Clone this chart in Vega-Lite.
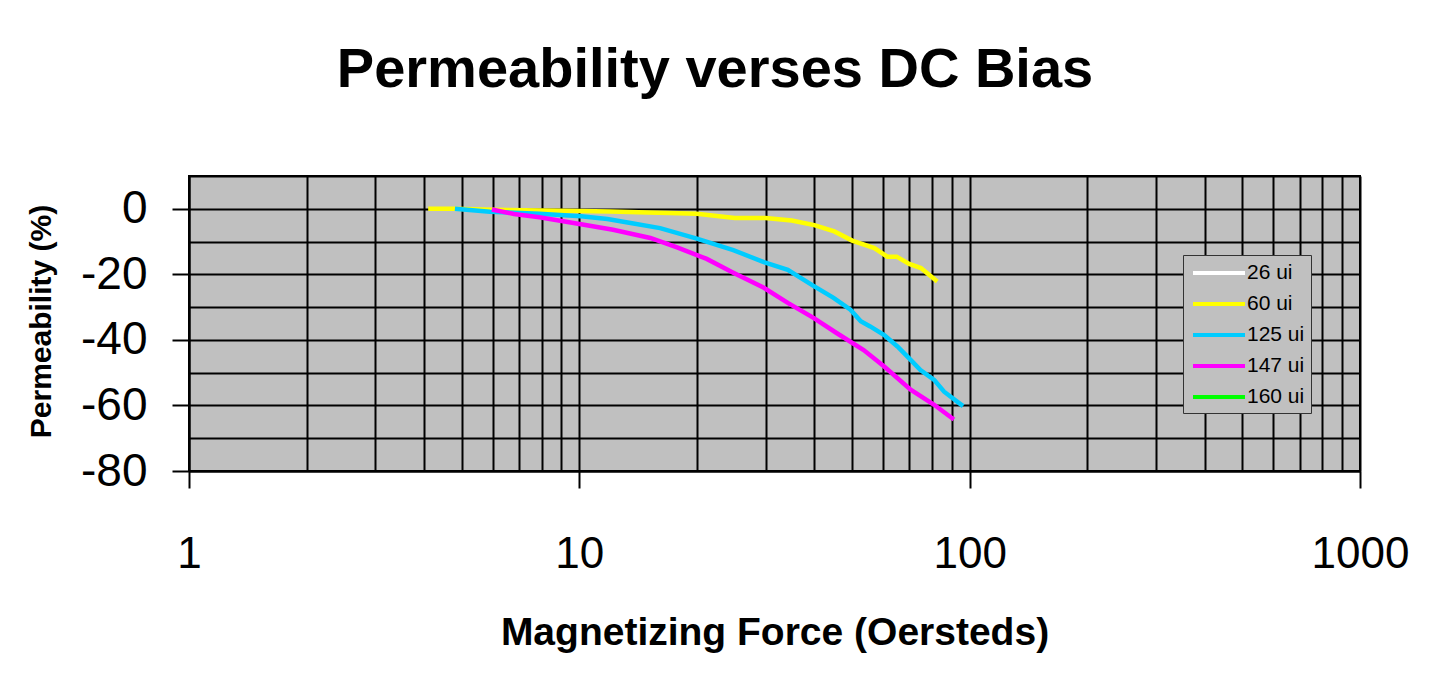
{
  "$schema": "https://vega.github.io/schema/vega-lite/v6.json",
  "autosize": {"type": "none"},
  "width": 1171,
  "height": 295,
  "padding": {"left": 189, "top": 176, "right": 70, "bottom": 204},
  "background": "white",
  "title": {
    "text": "Permeability verses DC Bias",
    "font": "Liberation Sans",
    "fontSize": 56,
    "fontWeight": "bold",
    "color": "black",
    "anchor": "middle",
    "frame": "group",
    "baseline": "alphabetic",
    "dx": -59.5,
    "offset": 10
  },
  "data": {
    "values": [
      {"H": 4.1, "perm": 0, "series": "60 ui"},
      {"H": 4.8, "perm": 0, "series": "60 ui"},
      {"H": 6, "perm": -0.3, "series": "60 ui"},
      {"H": 8, "perm": -0.5, "series": "60 ui"},
      {"H": 10, "perm": -0.7, "series": "60 ui"},
      {"H": 12, "perm": -0.8, "series": "60 ui"},
      {"H": 15, "perm": -1.1, "series": "60 ui"},
      {"H": 17, "perm": -1.3, "series": "60 ui"},
      {"H": 20, "perm": -1.5, "series": "60 ui"},
      {"H": 25, "perm": -2.8, "series": "60 ui"},
      {"H": 30, "perm": -2.8, "series": "60 ui"},
      {"H": 35, "perm": -3.6, "series": "60 ui"},
      {"H": 40, "perm": -5, "series": "60 ui"},
      {"H": 45, "perm": -6.9, "series": "60 ui"},
      {"H": 50, "perm": -9.7, "series": "60 ui"},
      {"H": 57, "perm": -12, "series": "60 ui"},
      {"H": 61.5, "perm": -14.6, "series": "60 ui"},
      {"H": 65, "perm": -14.6, "series": "60 ui"},
      {"H": 70, "perm": -16.8, "series": "60 ui"},
      {"H": 75, "perm": -18.1, "series": "60 ui"},
      {"H": 82.6, "perm": -22.2, "series": "60 ui"},
      {"H": 4.8, "perm": 0, "series": "125 ui"},
      {"H": 5.9, "perm": -0.9, "series": "125 ui"},
      {"H": 7.9, "perm": -1.5, "series": "125 ui"},
      {"H": 10.1, "perm": -2.3, "series": "125 ui"},
      {"H": 11.8, "perm": -3.1, "series": "125 ui"},
      {"H": 13.3, "perm": -4.2, "series": "125 ui"},
      {"H": 16.1, "perm": -5.9, "series": "125 ui"},
      {"H": 20, "perm": -9.1, "series": "125 ui"},
      {"H": 24.8, "perm": -12.6, "series": "125 ui"},
      {"H": 29.7, "perm": -16.3, "series": "125 ui"},
      {"H": 34.2, "perm": -18.6, "series": "125 ui"},
      {"H": 39.8, "perm": -23.5, "series": "125 ui"},
      {"H": 44.8, "perm": -27.2, "series": "125 ui"},
      {"H": 49.5, "perm": -30.8, "series": "125 ui"},
      {"H": 52.6, "perm": -34.3, "series": "125 ui"},
      {"H": 55.6, "perm": -35.9, "series": "125 ui"},
      {"H": 60.4, "perm": -38.5, "series": "125 ui"},
      {"H": 65.3, "perm": -42, "series": "125 ui"},
      {"H": 70.6, "perm": -46.1, "series": "125 ui"},
      {"H": 74.8, "perm": -49.2, "series": "125 ui"},
      {"H": 81.1, "perm": -52.2, "series": "125 ui"},
      {"H": 86, "perm": -55.8, "series": "125 ui"},
      {"H": 96.2, "perm": -60.2, "series": "125 ui"},
      {"H": 5.97, "perm": -0.2, "series": "147 ui"},
      {"H": 6.8, "perm": -1.6, "series": "147 ui"},
      {"H": 7.9, "perm": -2.6, "series": "147 ui"},
      {"H": 10.1, "perm": -4.7, "series": "147 ui"},
      {"H": 12.2, "perm": -6.4, "series": "147 ui"},
      {"H": 15.2, "perm": -8.9, "series": "147 ui"},
      {"H": 17.8, "perm": -11.8, "series": "147 ui"},
      {"H": 21.2, "perm": -15.3, "series": "147 ui"},
      {"H": 24.8, "perm": -19.5, "series": "147 ui"},
      {"H": 29.7, "perm": -24.1, "series": "147 ui"},
      {"H": 34.2, "perm": -28.7, "series": "147 ui"},
      {"H": 39.8, "perm": -33.3, "series": "147 ui"},
      {"H": 45.6, "perm": -37.9, "series": "147 ui"},
      {"H": 53.5, "perm": -43.1, "series": "147 ui"},
      {"H": 60.4, "perm": -48.1, "series": "147 ui"},
      {"H": 70.6, "perm": -55.2, "series": "147 ui"},
      {"H": 81.1, "perm": -59.8, "series": "147 ui"},
      {"H": 91.1, "perm": -64.3, "series": "147 ui"}
    ]
  },
  "mark": {"type": "line", "strokeWidth": 4.5, "clip": true},
  "encoding": {
    "x": {
      "field": "H",
      "type": "quantitative",
      "scale": {"type": "log", "domain": [1, 1000], "nice": false},
      "axis": {
        "title": "Magnetizing Force (Oersteds)",
        "values": [1, 2, 3, 4, 5, 6, 7, 8, 9, 10, 20, 30, 40, 50, 60, 70, 80, 90, 100, 200, 300, 400, 500, 600, 700, 800, 900, 1000],
        "labelExpr": "indexof([1, 10, 100, 1000], datum.value) >= 0 ? '' + datum.value : ''",
        "grid": true,
        "gridColor": "black",
        "gridWidth": 2,
        "gridOpacity": 1,
        "tickSize": 17,
        "tickColor": "black",
        "tickWidth": 2,
        "tickOpacity": {"condition": {"test": "indexof([1, 10, 100, 1000], datum.value) >= 0", "value": 1}, "value": 0},
        "domainColor": "black",
        "domainWidth": 2,
        "labelFont": "Liberation Sans",
        "labelFontSize": 44,
        "labelColor": "black",
        "labelPadding": 44,
        "labelFlush": false,
        "labelOverlap": false,
        "labelBound": false,
        "titleFont": "Liberation Sans",
        "titleFontSize": 39,
        "titleFontWeight": "bold",
        "titleColor": "black",
        "titleBaseline": "middle",
        "titleY": 161
      }
    },
    "y": {
      "field": "perm",
      "type": "quantitative",
      "scale": {"domain": [-80, 10], "nice": false, "zero": false},
      "axis": {
        "title": "Permeability (%)",
        "values": [-80, -70, -60, -50, -40, -30, -20, -10, 0, 10],
        "labelExpr": "(datum.value % 20 == 0) ? '' + datum.value : ''",
        "grid": true,
        "gridColor": "black",
        "gridWidth": 2,
        "gridOpacity": 1,
        "tickSize": 17,
        "tickColor": "black",
        "tickWidth": 2,
        "tickOpacity": {"condition": {"test": "datum.value % 20 == 0", "value": 1}, "value": 0},
        "domainColor": "black",
        "domainWidth": 2,
        "labelFont": "Liberation Sans",
        "labelFontSize": 46,
        "labelColor": "black",
        "labelPadding": 25,
        "labelFlush": false,
        "labelOverlap": false,
        "labelBound": false,
        "titleFont": "Liberation Sans",
        "titleFontSize": 30,
        "titleFontWeight": "bold",
        "titleColor": "black",
        "titleAngle": -90,
        "titleBaseline": "middle",
        "titleAlign": "center",
        "titleX": -148,
        "titleY": 145
      }
    },
    "color": {
      "field": "series",
      "type": "nominal",
      "scale": {
        "domain": ["26 ui", "60 ui", "125 ui", "147 ui", "160 ui"],
        "range": ["#FFFFFF", "#FFFF00", "#00CCFF", "#FF00FF", "#00FF00"]
      },
      "legend": {
        "title": null,
        "orient": "none",
        "legendX": 994,
        "legendY": 79,
        "fillColor": "#C0C0C0",
        "strokeColor": "#333333",
        "padding": 6,
        "symbolType": "M-2.6,0H2.6",
        "symbolSize": 400,
        "symbolStrokeWidth": 4,
        "symbolOffset": 18,
        "labelOffset": 16,
        "rowPadding": 9,
        "labelFont": "Liberation Sans",
        "labelFontSize": 21,
        "labelColor": "black"
      }
    }
  },
  "config": {
    "view": {"fill": "#C0C0C0", "stroke": "black", "strokeWidth": 2}
  }
}
